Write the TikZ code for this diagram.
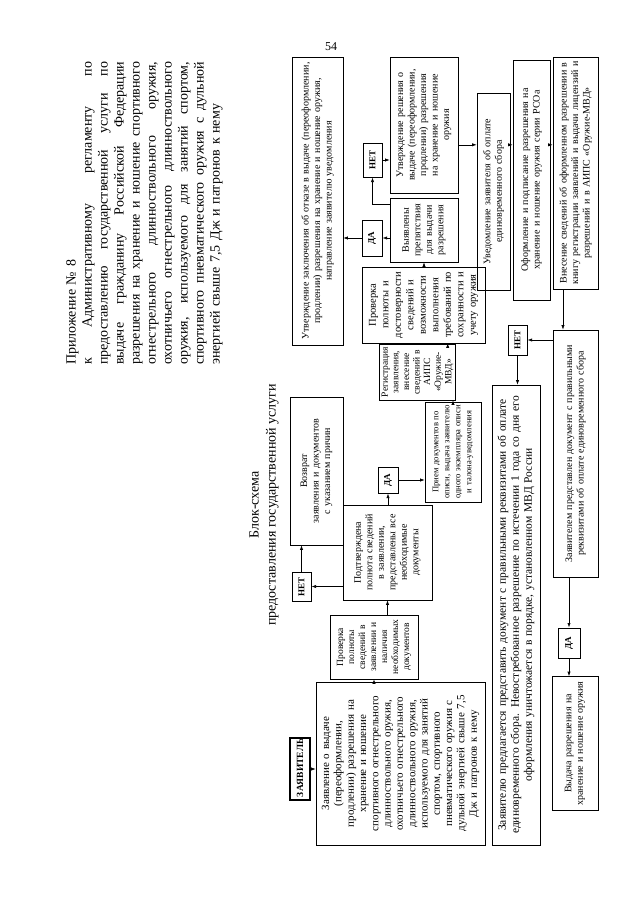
\documentclass[tikz,border=0pt]{standalone}
\usepackage{fontspec}
\setmainfont{Liberation Serif}
\usetikzlibrary{arrows.meta,calc}

\tikzset{
  >={Latex[length=4.5pt,width=3.2pt]},
  blok/.style={draw, line width=0.6pt, align=center, inner xsep=3pt, inner ysep=2pt,
    font=\fontsize{10}{11.5}\selectfont},
  otvet/.style={draw, line width=1pt, inner sep=1.5pt, align=center,
    font=\fontsize{9}{10}\selectfont\bfseries},
  strelka/.style={->, line width=0.6pt},
}
% строка шапки, растянутая на всю ширину
\newcommand{\shirstroka}[1]{\leavevmode\hbox to 303pt{\spaceskip=.25em plus 1fil\relax #1}}

\begin{document}
\begin{tikzpicture}
    \useasboundingbox (0,0) rectangle (640pt,-905pt);

    % --- Номер страницы (стоит прямо) ---
    \node[font=\fontsize{12}{12}\selectfont] (nomer) at (331pt,-47pt) {54};

    % --- Лист повернут: (u,w) -- вдоль строки и сверху вниз ---
    \begin{scope}[x=1pt, y=-1pt, shift={(0pt,-905pt)}, rotate=90, transform shape]
        % Шапка
        \node[anchor=north west, inner sep=0pt, text width=303pt, align=left,
              font=\fontsize{14}{16}\selectfont] (shapka) at (540,66) {%
            Приложение № 8\\
            \shirstroka{к Административному регламенту по}\\
            \shirstroka{предоставлению государственной услуги по}\\
            \shirstroka{выдаче гражданину Российской Федерации}\\
            \shirstroka{разрешения на хранение и ношение спортивного}\\
            \shirstroka{огнестрельного длинноствольного оружия,}\\
            \shirstroka{охотничьего огнестрельного длинноствольного}\\
            \shirstroka{оружия, используемого для занятий спортом,}\\
            \shirstroka{спортивного пневматического оружия с дульной}\\
            энергией свыше 7,5 Дж и патронов к нему};
        \node[align=center, font=\fontsize{14}{17}\selectfont] (zagolovok) at (400,264)
            {Блок-схема\\предоставления государственной услуги};

        % Верхняя полоса
        \node[blok, font=\fontsize{9.5}{11}\selectfont\bfseries, line width=1.2pt,
              text width=56pt, minimum height=20pt] (zayav) at (136,300) {ЗАЯВИТЕЛЬ};
        \node[otvet, minimum width=29pt, minimum height=19pt] (net1) at (318.5,301.5) {НЕТ};
        \node[blok, text width=142pt, minimum height=53pt] (vozvrat) at (434,316.5)
            {Возврат\\ заявления и документов\\ с указанием причин};
        \node[blok, text width=282pt, minimum height=51pt] (otkaz) at (704,317.5)
            {Утверждение заключения об отказе в выдаче (переоформлении,\\ продлении) разрешения на хранение и ношение оружия,\\ направление заявителю уведомления};

        % Основная цепочка
        \node[blok, font=\fontsize{11}{12.3}\selectfont, text width=157pt, minimum height=169pt] (zayavlenie) at (141.5,400.5)
            {Заявление о выдаче\\ (переоформлении,\\ продлении) разрешения на\\ хранение и ношение\\ спортивного огнестрельного\\ длинноствольного оружия,\\ охотничьего огнестрельного\\ длинноствольного оружия,\\ используемого для занятий\\ спортом, спортивного\\ пневматического оружия с\\ дульной энергией свыше 7,5\\ Дж и патронов к нему};
        \node[blok, font=\fontsize{9.5}{11}\selectfont, text width=58pt, minimum height=88pt] (prov1) at (258,374)
            {Проверка\\ полноты\\ сведений в\\ заявлении и\\ наличия\\ необходимых\\ документов};
        \node[blok, text width=89pt, minimum height=89pt] (podtv) at (352.5,387.5)
            {Подтверждена\\ полнота сведений\\ в заявлении,\\ представлены все\\ необходимые\\ документы};
        \node[otvet, minimum width=26pt, minimum height=20pt] (da1) at (425,388) {ДА};
        \node[blok, font=\fontsize{8.6}{11}\selectfont, text width=94pt, minimum height=56pt] (priem) at (453,453)
            {Прием документов по\\ описи, выдача заявителю\\ одного экземпляра описи\\ и талона-уведомления};
        \node[blok, font=\fontsize{9.5}{10.6}\selectfont, text width=50pt, minimum height=75pt] (registr) at (533,417.5)
            {Регистрация\\ заявления,\\ внесение\\ сведений в\\ АИПС\\ «Оружие-\\ МВД»};
        \node[blok, font=\fontsize{10.5}{12.5}\selectfont, text width=70pt, minimum height=123pt] (prov2) at (600,423.5)
            {Проверка\\ полноты и\\ достоверности\\ сведений и\\ возможности\\ выполнения\\ требований по\\ сохранности и\\ учету оружия};
        \node[blok, text width=58pt, minimum height=68pt] (vyyav) at (675,424)
            {Выявлены\\ препятствия\\ для выдачи\\ разрешения};
        \node[otvet, minimum width=36pt, minimum height=20pt] (da2) at (667,372) {ДА};
        \node[otvet, minimum width=34pt, minimum height=19pt] (net2) at (745,372.5) {НЕТ};
        \node[blok, text width=130pt, minimum height=68pt] (utv) at (780,424)
            {Утверждение решения о\\ выдаче (переоформлении,\\ продлении) разрешения\\ на хранение и ношение\\ оружия};

        % Нижние полосы
        \node[blok, text width=191pt, minimum height=33pt] (uvedom) at (713.5,493.5)
            {Уведомление заявителя об оплате\\ единовременного сбора};
        \node[blok, text width=234pt, minimum height=37pt] (oform) at (725,531.5)
            {Оформление и подписание разрешения на\\ хранение и ношение оружия серии РСОа};
        \node[blok, text width=226pt, minimum height=45pt] (vnesen) at (732,575.5)
            {Внесение сведений об оформленном разрешении в\\ книгу регистрации заявлений и выдачи лицензий и\\ разрешений и в АИПС «Оружие-МВД»};
        \node[blok, text width=241pt, minimum height=45pt] (predstavlen) at (451.5,575.5)
            {Заявителем представлен документ с правильными\\ реквизитами об оплате единовременного сбора};
        \node[otvet, minimum width=30pt, minimum height=19pt] (net3) at (565,517.5) {НЕТ};
        \node[blok, font=\fontsize{11.5}{13}\selectfont, text width=454pt, minimum height=48pt] (predlag) at (290,516)
            {Заявителю предлагается представить документ с правильными реквизитами об оплате\\ единовременного сбора. Невостребованное разрешение по истечении 1 года со дня его\\ оформления уничтожается в порядке, установленном МВД России};
        \node[otvet, minimum width=30pt, minimum height=22pt] (da3) at (262,569) {ДА};
        \node[blok, text width=128pt, minimum height=46pt] (vydacha) at (161.5,575)
            {Выдача разрешения на\\ хранение и ношение оружия};

        % Точки выхода стрелок
        \path ($(registr.east)!0.79!(registr.south east)$) coordinate (r1);
        \path ($(vyyav.north)!0.8!(vyyav.north east)$) coordinate (v1);
        \path ($(utv.south)!0.29!(utv.south west)$) coordinate (k1);
        \path ($(vnesen.west)!0.55!(vnesen.north west)$) coordinate (k2);

        % Стрелки
        \draw[strelka] (zayav.south) -- (zayav |- zayavlenie.north);
        \draw[strelka] (zayavlenie.east |- prov1) -- (prov1.west);
        \draw[strelka] (prov1.east |- podtv) -- (podtv.west);
        \draw[strelka] (podtv.north -| net1) -- (net1.south);
        \draw[strelka] (net1.east) -- (vozvrat.west |- net1);
        \draw[strelka] (podtv.east |- da1) -- (da1.west);
        \draw[strelka] (da1.south) -- (da1 |- priem.north);
        \draw[strelka] (priem.east) -- (registr.west |- priem);
        \draw[strelka] (r1) -- (prov2.west |- r1);
        \draw[strelka] (prov2.east |- vyyav) -- (vyyav.west);
        \draw[strelka] (vyyav.north -| da2) -- (da2.south);
        \draw[strelka] (da2.north) -- (da2 |- otkaz.south);
        \draw[strelka] (v1) -- (v1 |- net2) -- (net2.west);
        \draw[strelka] (net2.south) -- (net2 |- utv.north);
        \draw[strelka] (k1) -- (k1 |- uvedom.north);
        \draw[strelka] (k1 |- uvedom.south) -- (k1 |- oform.north);
        \draw[strelka] (k1 |- oform.south) -- (k1 |- vnesen.north);
        \draw[strelka] (k2) -- (predstavlen.east |- k2);
        \draw[strelka] (predstavlen.north -| net3) -- (net3.south);
        \draw[strelka] (net3.west) -- (predlag.east |- net3);
        \draw[strelka] (predstavlen.west |- da3) -- (da3.east);
        \draw[strelka] (da3.west) -- (vydacha.east |- da3);
    \end{scope}
\end{tikzpicture}
\end{document}
